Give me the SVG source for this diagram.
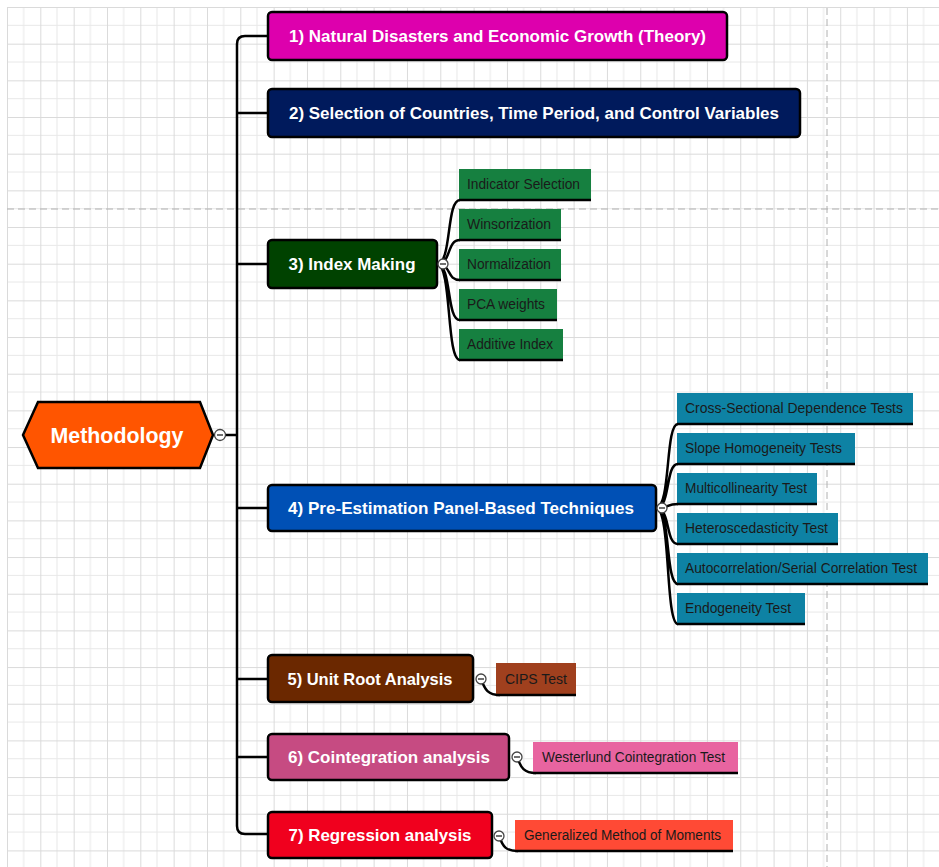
<svg xmlns="http://www.w3.org/2000/svg" width="939" height="867" viewBox="0 0 939 867">
<defs>
<pattern id="grid" x="7" y="7" width="33.33" height="36.67" patternUnits="userSpaceOnUse">
<path d="M16.67 0V36.67M0 18.33H33.33" stroke="#e8e8e8" stroke-width="1" fill="none"/>
<path d="M0.5 0V36.67M0 0.5H33.33" stroke="#dadada" stroke-width="1" fill="none"/>
</pattern>
</defs>
<style>
.main{stroke:#000;stroke-width:2.5}
.mt{font-family:"Liberation Sans",Arial,sans-serif;font-weight:bold;font-size:17px;fill:#fff;text-anchor:middle;dominant-baseline:central}
.ct{font-family:"Liberation Sans",Arial,sans-serif;font-size:14px;fill:#1a1a1a}
.con{fill:none;stroke:#000;stroke-width:2.5}
.ul{fill:none;stroke:#000;stroke-width:2.5}
.tog{fill:#fff;stroke:#444;stroke-width:1.3}
.tm{stroke:#222;stroke-width:1.3}
.dash{stroke:#b0b0b0;stroke-width:1;stroke-dasharray:7,4}
</style>
<rect width="939" height="867" fill="#fff"/>
<rect x="7" y="7" width="932" height="860" fill="url(#grid)"/>
<line class="dash" x1="7" y1="209" x2="939" y2="209"/>
<line class="dash" x1="827" y1="8" x2="827" y2="867"/>

<g id="connectors">
<path class="con" d="M215 435H237"/>
<path class="con" d="M268 36H245Q237 36 237 44V826Q237 834 245 834H268"/>
<path class="con" d="M237 113H268M237 264H268M237 508H268M237 679H268M237 757H268"/>
<path class="con" d="M437 264C452 264 446 200 460 200M437 264C452 264 446 240 460 240M437 264C452 264 446 280 460 280M437 264C452 264 446 320 460 320M437 264C452 264 446 360 460 360"/>
<path class="con" d="M656 508C671 508 665 424 678 424M656 508C671 508 665 464 678 464M656 508C671 508 665 504 678 504M656 508C671 508 665 544 678 544M656 508C671 508 665 584 678 584M656 508C671 508 665 624 678 624"/>
<path class="con" d="M481 679C485 690 488 695 500 695M517 757C521 768 524 773 536 773M499 836C503 847 506 851 518 851"/>
</g>

<g id="methodology">
<polygon points="23,435 38,402 200,402 213,435 200,468 38,468" fill="#FF5500" stroke="#000" stroke-width="2.5"/>
<text x="117" y="435" class="mt" style="font-size:22px" textLength="133" lengthAdjust="spacingAndGlyphs">Methodology</text>
<circle class="tog" cx="220" cy="435" r="5.5"/><line class="tm" x1="217" y1="435" x2="223" y2="435"/>
</g>

<g id="n1"><rect class="main" x="268" y="12" width="459" height="48" rx="4" fill="#DD00AD"/>
<text x="497.5" y="36" class="mt" textLength="417" lengthAdjust="spacingAndGlyphs">1) Natural Disasters and Economic Growth (Theory)</text></g>
<g id="n2"><rect class="main" x="268" y="89" width="532" height="48" rx="4" fill="#001A5C"/>
<text x="534" y="113" class="mt" textLength="490" lengthAdjust="spacingAndGlyphs">2) Selection of Countries, Time Period, and Control Variables</text></g>
<g id="n3"><rect class="main" x="268" y="240" width="169" height="48" rx="4" fill="#004200"/>
<text x="352" y="264" class="mt" textLength="127" lengthAdjust="spacingAndGlyphs">3) Index Making</text>
<circle class="tog" cx="443" cy="264" r="5"/><line class="tm" x1="440" y1="264" x2="446" y2="264"/></g>
<g id="n4"><rect class="main" x="268" y="485" width="388" height="46" rx="4" fill="#0050B5"/>
<text x="461" y="508" class="mt" textLength="346" lengthAdjust="spacingAndGlyphs">4) Pre-Estimation Panel-Based Techniques</text>
<circle class="tog" cx="662" cy="508" r="5"/><line class="tm" x1="659" y1="508" x2="665" y2="508"/></g>
<g id="n5"><rect class="main" x="268" y="655" width="205" height="47" rx="4" fill="#6B2800"/>
<text x="370" y="679" class="mt" textLength="165" lengthAdjust="spacingAndGlyphs">5) Unit Root Analysis</text>
<circle class="tog" cx="481" cy="679" r="5"/><line class="tm" x1="478" y1="679" x2="484" y2="679"/></g>
<g id="n6"><rect class="main" x="268" y="734" width="241" height="46" rx="4" fill="#C64B82"/>
<text x="389" y="757" class="mt" textLength="202" lengthAdjust="spacingAndGlyphs">6) Cointegration analysis</text>
<circle class="tog" cx="517" cy="757" r="5"/><line class="tm" x1="514" y1="757" x2="520" y2="757"/></g>
<g id="n7"><rect class="main" x="268" y="812" width="224" height="46" rx="4" fill="#F0001E"/>
<text x="380" y="835" class="mt" textLength="183" lengthAdjust="spacingAndGlyphs">7) Regression analysis</text>
<circle class="tog" cx="499" cy="836" r="5"/><line class="tm" x1="496" y1="836" x2="502" y2="836"/></g>

<g id="c3a"><rect x="459" y="169" width="132" height="31" fill="#168040"/><path class="ul" d="M459 200H591"/><text class="ct" x="467" y="189" textLength="113" lengthAdjust="spacingAndGlyphs">Indicator Selection</text></g>
<g id="c3b"><rect x="459" y="209" width="102" height="31" fill="#168040"/><path class="ul" d="M459 240H561"/><text class="ct" x="467" y="229" textLength="84" lengthAdjust="spacingAndGlyphs">Winsorization</text></g>
<g id="c3c"><rect x="459" y="249" width="102" height="31" fill="#168040"/><path class="ul" d="M459 280H561"/><text class="ct" x="467" y="269" textLength="84" lengthAdjust="spacingAndGlyphs">Normalization</text></g>
<g id="c3d"><rect x="459" y="289" width="98" height="31" fill="#168040"/><path class="ul" d="M459 320H557"/><text class="ct" x="467" y="309" textLength="78" lengthAdjust="spacingAndGlyphs">PCA weights</text></g>
<g id="c3e"><rect x="459" y="329" width="104" height="31" fill="#168040"/><path class="ul" d="M459 360H563"/><text class="ct" x="467" y="349" textLength="86" lengthAdjust="spacingAndGlyphs">Additive Index</text></g>

<g id="c4a"><rect x="677" y="393" width="236" height="31" fill="#0E82A4"/><path class="ul" d="M677 424H913"/><text class="ct" x="685" y="413" textLength="218" lengthAdjust="spacingAndGlyphs">Cross-Sectional Dependence Tests</text></g>
<g id="c4b"><rect x="677" y="433" width="178" height="31" fill="#0E82A4"/><path class="ul" d="M677 464H855"/><text class="ct" x="685" y="453" textLength="157" lengthAdjust="spacingAndGlyphs">Slope Homogeneity Tests</text></g>
<g id="c4c"><rect x="677" y="473" width="140" height="31" fill="#0E82A4"/><path class="ul" d="M677 504H817"/><text class="ct" x="685" y="493" textLength="122" lengthAdjust="spacingAndGlyphs">Multicollinearity Test</text></g>
<g id="c4d"><rect x="677" y="513" width="161" height="31" fill="#0E82A4"/><path class="ul" d="M677 544H838"/><text class="ct" x="685" y="533" textLength="143" lengthAdjust="spacingAndGlyphs">Heteroscedasticity Test</text></g>
<g id="c4e"><rect x="677" y="553" width="251" height="31" fill="#0E82A4"/><path class="ul" d="M677 584H928"/><text class="ct" x="685" y="573" textLength="232" lengthAdjust="spacingAndGlyphs">Autocorrelation/Serial Correlation Test</text></g>
<g id="c4f"><rect x="677" y="593" width="128" height="31" fill="#0E82A4"/><path class="ul" d="M677 624H805"/><text class="ct" x="685" y="613" textLength="106" lengthAdjust="spacingAndGlyphs">Endogeneity Test</text></g>

<g id="c5"><rect x="496" y="663" width="80" height="32" fill="#A0401E"/><path class="ul" d="M496 695H576"/><text class="ct" x="505" y="684" textLength="62" lengthAdjust="spacingAndGlyphs">CIPS Test</text></g>
<g id="c6"><rect x="533" y="742" width="205" height="31" fill="#E864A0"/><path class="ul" d="M533 773H738"/><text class="ct" x="542" y="762" textLength="183" lengthAdjust="spacingAndGlyphs">Westerlund Cointegration Test</text></g>
<g id="c7"><rect x="515" y="820" width="218" height="31" fill="#FF4A35"/><path class="ul" d="M515 851H733"/><text class="ct" x="524" y="840" textLength="197" lengthAdjust="spacingAndGlyphs">Generalized Method of Moments</text></g>
</svg>
